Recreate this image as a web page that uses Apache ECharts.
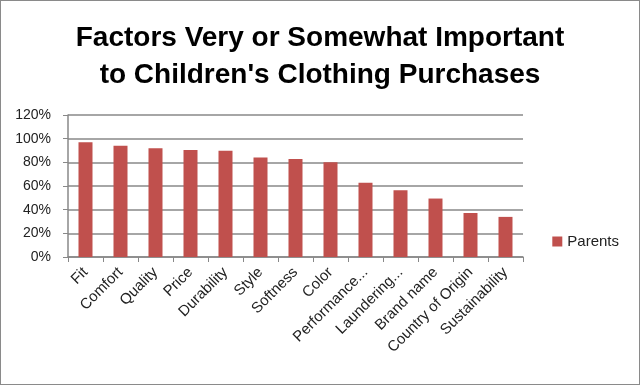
<!DOCTYPE html>
<html><head><meta charset="utf-8">
<script src="https://cdn.jsdelivr.net/npm/echarts@6/dist/echarts.min.js"></script>
<style>html,body{margin:0;padding:0;background:#fff}#c{width:640px;height:385px;box-sizing:border-box;border:1px solid #8a8a8a}</style>
</head><body><div id="c"></div>
<script>
var categories = ["Fit","Comfort","Quality","Price","Durability","Style","Softness","Color","Performance...","Laundering...","Brand name","Country of Origin","Sustainability"];
var parents = [97, 94, 92, 90.5, 89.7, 84, 82.8, 80, 62.8, 56.4, 49.4, 37.2, 33.9];
var yTicks = [0, 20, 40, 60, 80, 100, 120];
var chart = echarts.init(document.getElementById('c'));
chart.setOption({
  animation: false,
  title: {
    text: "Factors Very or Somewhat Important\nto Children's Clothing Purchases",
    left: 'center', top: 14,
    textStyle: {fontFamily: 'Liberation Sans', fontWeight: 'bold', fontSize: 28, lineHeight: 37, color: '#000'}
  },
  legend: {
    data: ['Parents'], right: 15, top: 228, itemWidth: 10, itemHeight: 10, icon: 'rect', itemGap: 5,
    textStyle: {fontFamily: 'Liberation Sans', fontSize: 15, color: '#222', padding: [0, 0, 0, 0]}
  },
  grid: {left: 67, right: 116, top: 114, bottom: 127},
  xAxis: {
    type: 'category', data: categories,
    axisLine: {lineStyle: {color: '#888', width: 1.5}},
    axisTick: {show: true, length: 5, lineStyle: {color: '#888'}},
    axisLabel: {rotate: 45, interval: 0, fontFamily: 'Liberation Sans', fontSize: 15, color: '#222', margin: 13}
  },
  yAxis: {
    type: 'value', min: 0, max: 120, interval: 20,
    axisLine: {show: true, lineStyle: {color: '#888', width: 1.5}},
    axisTick: {show: true, length: 5, lineStyle: {color: '#888'}},
    splitLine: {lineStyle: {color: '#888', width: 1.5}},
    axisLabel: {formatter: function(v){return yTicks.indexOf(v) >= 0 ? v + '%' : '';}, fontFamily: 'Liberation Sans', fontSize: 14, color: '#222', margin: 17}
  },
  series: [{
    name: 'Parents', type: 'bar', data: parents, barWidth: 14,
    itemStyle: {color: '#c0504d'}
  }]
});
</script></body></html>
